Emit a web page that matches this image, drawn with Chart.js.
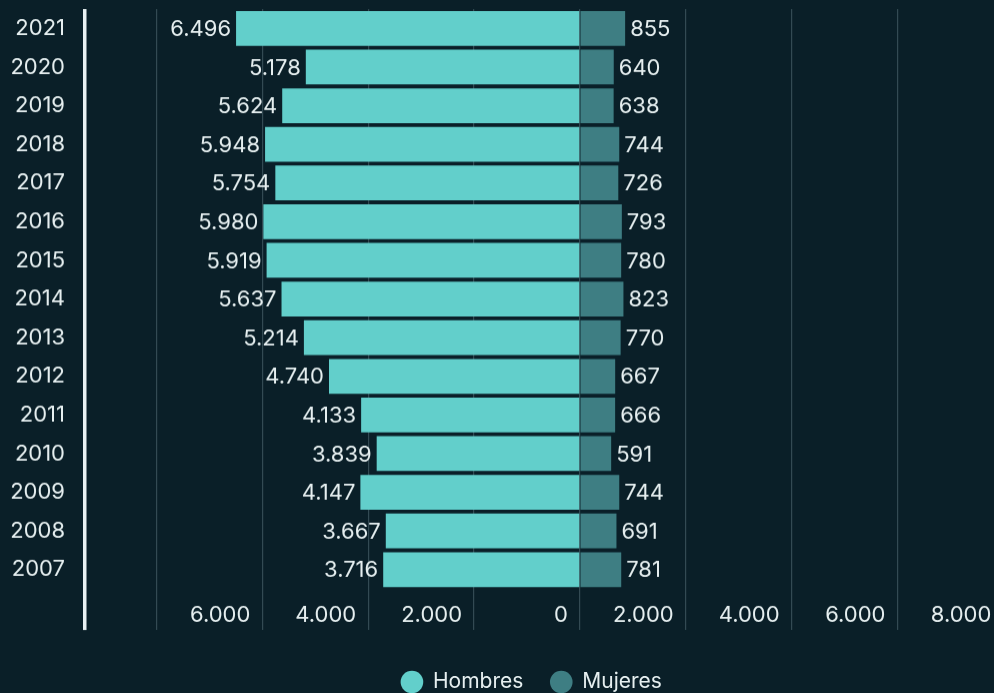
<!DOCTYPE html>
<html>
<head>
<meta charset="utf-8">
<script src="https://cdn.jsdelivr.net/npm/chart.js@4"></script>
<style>
  html, body { margin: 0; padding: 0; background: #0a1f28; overflow: hidden; }
  #wrap { width: 1063px; height: 701.5px; }
</style>
</head>
<body>
<div id="wrap"><canvas id="myChart"></canvas></div>
<script>
const years = ["2021", "2020", "2019", "2018", "2017", "2016", "2015", "2014", "2013", "2012", "2011", "2010", "2009", "2008", "2007"];
const hombres = [6496, 5178, 5624, 5948, 5754, 5980, 5919, 5637, 5214, 4740, 4133, 3839, 4147, 3667, 3716];
const mujeres = [855, 640, 638, 744, 726, 793, 780, 823, 770, 667, 666, 591, 744, 691, 781];
const xTicks = [-8000, -6000, -4000, -2000, 0, 2000, 4000, 6000, 8000];
const xMin = -9350;
const xMax = 8000;

const textColor = "#e6eff0";
const fmt = v => Math.abs(v).toString().replace(/\B(?=(\d{3})+(?!\d))/g, ".");

Chart.defaults.font.family = "Inter, 'Noto Sans', sans-serif";
Chart.defaults.color = textColor;

// etiquetas de valor al final de cada barra
const valueLabels = {
    id: "valueLabels",
    afterDatasetsDraw(chart) {
        const ctx = chart.ctx;
        ctx.save();
        ctx.font = "22px Inter, 'Noto Sans', sans-serif";
        ctx.fillStyle = textColor;
        ctx.textBaseline = "middle";
        chart.data.datasets.forEach((ds, i) => {
            chart.getDatasetMeta(i).data.forEach((bar, j) => {
                const left = ds.data[j] < 0;
                ctx.textAlign = left ? "right" : "left";
                ctx.fillText(fmt(ds.data[j]), bar.x + (left ? -5 : 5), bar.y + 1);
            });
        });
        ctx.restore();
    }
};

// la leyenda va centrada un poco a la derecha
const legendShift = {
    id: "legendShift",
    afterLayout(chart) {
        if (chart.legend) chart.legend.left += 60;
    }
};

const config = {
    type: "bar",
    data: {
        labels: years,
        datasets: [
            {
                label: "Hombres",
                data: hombres.map(v => -v),
                backgroundColor: "#62cfcb",
                borderWidth: 0,
                barPercentage: 0.9,
                categoryPercentage: 1
            },
            {
                label: "Mujeres",
                data: mujeres,
                backgroundColor: "#3e7e83",
                borderWidth: 0,
                barPercentage: 0.9,
                categoryPercentage: 1
            }
        ]
    },
    options: {
        indexAxis: "y",
        responsive: true,
        maintainAspectRatio: false,
        animation: false,
        layout: { padding: { top: 9, left: 0, right: 59.7, bottom: 0 } },
        plugins: {
            tooltip: { enabled: false },
            legend: {
                position: "bottom",
                labels: {
                    usePointStyle: true,
                    pointStyle: "circle",
                    boxWidth: 21,
                    boxHeight: 16,
                    padding: 27.5,
                    color: textColor,
                    font: { size: 21 }
                }
            }
        },
        scales: {
            x: {
                stacked: true,
                min: xMin,
                max: xMax,
                afterBuildTicks: scale => {
                    scale.ticks = [xMin].concat(xTicks).map(v => ({ value: v }));
                },
                afterFit: scale => { scale.height = 54.9; },
                border: { display: false },
                grid: {
                    color: c => c.tick && c.tick.value === xMin ? "#e8f0f2" : "#334a53",
                    lineWidth: c => c.tick && c.tick.value === xMin ? 3.5 : 1.2,
                    tickLength: 41
                },
                ticks: {
                    align: "end",
                    labelOffset: -12,
                    padding: -28,
                    maxRotation: 0,
                    autoSkip: false,
                    color: textColor,
                    font: { size: 22 },
                    callback: v => (v === xMin || v === -8000) ? "" : fmt(v)
                }
            },
            y: {
                stacked: true,
                afterFit: scale => { scale.width = 85; },
                border: { display: false },
                grid: { display: false, tickLength: 20 },
                ticks: {
                    padding: 0,
                    color: textColor,
                    font: { size: 22, lineHeight: 0.8 }
                }
            }
        }
    },
    plugins: [valueLabels, legendShift]
};

const myChart = new Chart(document.getElementById("myChart"), config);
</script>
</body>
</html>
